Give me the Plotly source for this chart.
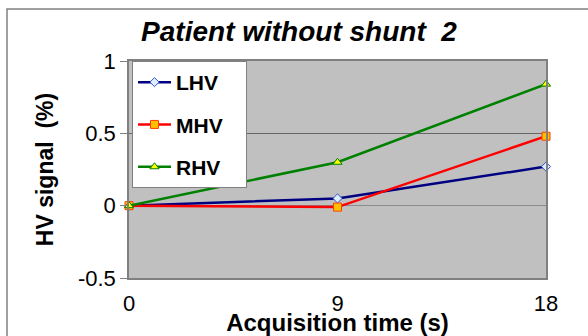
import plotly.graph_objects as go

# Acquisition times (s) and HV signal (%) per hepatic vein
times = [0, 9, 18]
lhv = [0.0, 0.05, 0.27]
mhv = [0.0, -0.01, 0.48]
rhv = [0.0, 0.30, 0.84]

x_ticks = [0, 9, 18]
x_tick_labels = ["0", "9", "18"]
y_ticks = [-0.5, 0, 0.5, 1]
y_tick_labels = ["-0.5", "0", "0.5", "1"]

FONT = "Liberation Sans, Arial, sans-serif"
PAD = "&nbsp;" * 3  # right padding inside the legend box

series = [
    ("LHV", lhv, "#000080", dict(symbol="diamond", size=7, color="#DDEEFF",
                                  line=dict(color="#3355CC", width=1))),
    ("MHV", mhv, "#FF0000", dict(symbol="square", size=8, color="#FFC000",
                                  line=dict(color="#FF4000", width=1))),
    ("RHV", rhv, "#008000", dict(symbol="triangle-up", size=8, color="#FFFF00",
                                  line=dict(color="#008000", width=1))),
]

fig = go.Figure()
for name, vals, color, marker in series:
    fig.add_trace(go.Scatter(
        x=times, y=vals, name=name + PAD, mode="lines+markers",
        line=dict(color=color, width=2.5),
        marker=marker, cliponaxis=False, legendgroup=name,
    ))

W, H = 588, 336
L, R, T, B = 129, 42, 61, 58
pw, ph = W - L - R, H - T - B

fig.update_layout(
    width=W, height=H,
    margin=dict(l=L, r=R, t=T, b=B, autoexpand=False),
    paper_bgcolor="white",
    plot_bgcolor="#C0C0C0",
    font=dict(family=FONT, color="black"),
    title=dict(
        text="Patient without shunt  2",
        font=dict(family=FONT, size=28, weight="bold", style="italic"),
        xref="container", yref="container",
        x=299 / W, xanchor="center", y=1 - 31 / H, yanchor="middle",
    ),
    showlegend=True,
    legend=dict(
        x=3 / pw, xanchor="left", y=1, yanchor="top",
        bgcolor="white", bordercolor="#808080", borderwidth=1,
        font=dict(family=FONT, size=21, weight="bold"),
        tracegroupgap=12, traceorder="grouped",
        itemwidth=33,
    ),
    xaxis=dict(
        range=[0, 18], tickvals=x_ticks, ticktext=x_tick_labels,
        showgrid=False, zeroline=False,
        showline=True, linecolor="#808080", linewidth=1.5, mirror=True,
        ticks="", ticklabelstandoff=5,
        tickfont=dict(family=FONT, size=22),
        title=dict(text="Acquisition time (s)", standoff=10,
                   font=dict(family=FONT, size=24, weight="bold")),
    ),
    yaxis=dict(
        range=[-0.5, 1], tickvals=y_ticks, ticktext=y_tick_labels,
        showgrid=True, gridcolor="#666666", gridwidth=1,
        zeroline=True, zerolinecolor="#8C8C8C", zerolinewidth=1,
        showline=True, linecolor="#808080", linewidth=1.5, mirror=True,
        ticks="outside", ticklen=7, tickcolor="#808080",
        tickfont=dict(family=FONT, size=22),
        title=dict(text="HV signal  (%)", standoff=18,
                   font=dict(family=FONT, size=23, weight="bold")),
    ),
    shapes=[
        # outer chart frame
        dict(type="rect", xref="paper", yref="paper",
             x0=(7 - L) / pw, x1=(W + 20 - L) / pw,
             y0=-(B + 20) / ph, y1=(H - B - 9) / ph,
             line=dict(color="#808080", width=1.5), fillcolor="rgba(0,0,0,0)",
             layer="above"),
    ],
)

fig.write_html("out.html")
